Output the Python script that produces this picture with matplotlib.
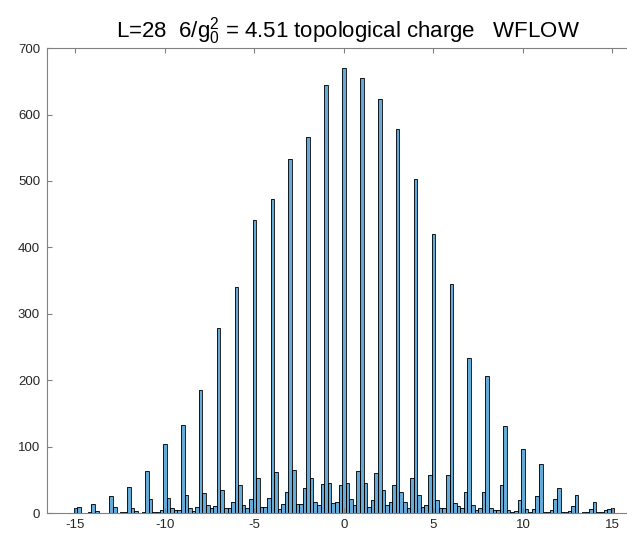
import matplotlib
matplotlib.use("Agg")
import matplotlib.pyplot as plt
import numpy as np

# histogram of topological charge, bin width 0.2
charges = np.arange(-15, 16)
peak_counts = [8, 13, 26, 39, 64, 104, 132, 185, 279, 340, 442, 473, 533, 566, 645,
               670,
               655, 624, 579, 503, 420, 345, 234, 206, 131, 96, 74, 38, 27, 16, 8]

# bins between integer k and k+1 (k+0.2, k+0.4, k+0.6, k+0.8), k = -15 .. 14
between_counts = [
    [9, 0, 0, 1], [3, 0, 0, 0], [9, 0, 2, 2], [8, 3, 0, 1], [21, 2, 1, 4],
    [23, 7, 4, 4], [27, 8, 3, 9], [30, 12, 7, 11], [34, 7, 8, 17], [43, 12, 7, 21],
    [53, 9, 9, 23], [62, 6, 13, 32], [65, 13, 14, 37], [53, 17, 12, 44], [46, 15, 16, 43],
    [45, 21, 12, 63], [45, 9, 19, 60], [34, 12, 16, 42], [32, 16, 8, 53], [27, 9, 12, 57],
    [19, 8, 8, 57], [15, 10, 8, 32], [12, 4, 7, 32], [7, 4, 5, 42], [4, 2, 3, 19],
    [6, 2, 6, 25], [2, 2, 4, 21], [2, 2, 3, 11], [0, 1, 2, 6], [1, 2, 5, 6],
]

bin_width = 0.2

# assemble bin centres and counts
centers = []
counts = []
for i, k in enumerate(charges):
    centers.append(k)
    counts.append(peak_counts[i])
    if i < len(between_counts):
        for j, c in enumerate(between_counts[i]):
            centers.append(k + bin_width * (j + 1))
            counts.append(c)
centers = np.round(np.array(centers), 2)
counts = np.array(counts)

plt.rcParams['font.family'] = ['Liberation Sans', 'DejaVu Sans']
plt.rcParams['mathtext.fontset'] = 'custom'
plt.rcParams['mathtext.rm'] = 'Liberation Sans'
plt.rcParams['axes.unicode_minus'] = False

fig = plt.figure(figsize=(6.27, 5.35), dpi=100)
ax = fig.add_axes([0.0745, 0.041, 0.948, 0.869])

ax.bar(centers, counts, width=bin_width, color=(0, 0.447, 0.741), alpha=0.6,
       edgecolor='none')
ax.bar(centers, counts, width=bin_width, facecolor='none', edgecolor='black',
       linewidth=0.6)

ax.set_xlim(-16.6, 16.6)
ax.set_ylim(0, 700)
ax.set_xticks(np.arange(-15, 16, 5))
ax.set_yticks(np.arange(0, 701, 100))

axis_col = (0.15, 0.15, 0.15)
for s in ax.spines.values():
    s.set_color('#808080')
    s.set_linewidth(0.8)
ax.tick_params(direction='in', top=True, right=True, length=3.6, width=0.8,
               color='#808080', labelcolor=axis_col, labelsize=9.5)
ax.tick_params(axis='y', pad=4.8)
ax.tick_params(axis='x', pad=4.5)

ax.set_title(r"L=28  6/$\mathregular{g_0^2}$ = 4.51 topological charge   WFLOW",
             fontsize=16, pad=8, x=0.507)

fig.savefig("out.png", dpi=100)
